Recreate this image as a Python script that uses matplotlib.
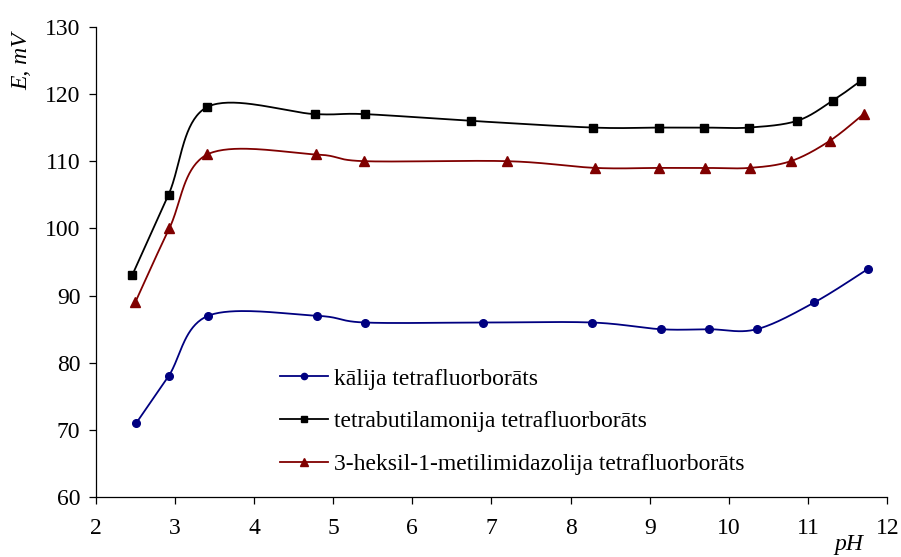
import numpy as np
import matplotlib
matplotlib.use("Agg")
import matplotlib.pyplot as plt

# pH values and electrode potentials (mV) for each electrolyte
ph_k = [2.51, 2.92, 3.42, 4.79, 5.40, 6.89, 8.27, 9.14, 9.75, 10.35, 11.08, 11.76]
e_k = [71, 78, 87, 87, 86, 86, 86, 85, 85, 85, 89, 94]

ph_tba = [2.46, 2.92, 3.40, 4.77, 5.40, 6.74, 8.28, 9.11, 9.69, 10.25, 10.86, 11.31, 11.67]
e_tba = [93, 105, 118, 117, 117, 116, 115, 115, 115, 115, 116, 119, 122]

ph_hmim = [2.50, 2.93, 3.41, 4.78, 5.39, 7.20, 8.31, 9.12, 9.70, 10.26, 10.78, 11.27, 11.70]
e_hmim = [89, 100, 111, 111, 110, 110, 109, 109, 109, 109, 110, 113, 117]

labels = ["kālija tetrafluorborāts",
          "tetrabutilamonija tetrafluorborāts",
          "3-heksil-1-metilimidazolija tetrafluorborāts"]

x_ticks = list(range(2, 13))
y_ticks = list(range(60, 131, 10))


def smooth(xs, ys, n=40):
    """Cardinal (Catmull-Rom) Bezier smoothing through every point."""
    p = np.column_stack([xs, ys]).astype(float)
    m = len(p)
    out = [p[0]]
    t = np.linspace(0, 1, n)[1:, None]
    for i in range(m - 1):
        p0 = p[i - 1] if i > 0 else p[i]
        p3 = p[i + 2] if i + 2 < m else p[i + 1]
        c1 = p[i] + (p[i + 1] - p0) / 6.0
        c2 = p[i + 1] - (p3 - p[i]) / 6.0
        seg = ((1 - t) ** 3) * p[i] + 3 * ((1 - t) ** 2) * t * c1 \
            + 3 * (1 - t) * t ** 2 * c2 + t ** 3 * p[i + 1]
        out.extend(seg)
    out = np.array(out)
    return out[:, 0], out[:, 1]


FS = 17
plt.rcParams["font.family"] = ["Liberation Serif", "DejaVu Serif"]
plt.rcParams["font.size"] = FS

fig = plt.figure(figsize=(9.01, 5.57), dpi=100)
ax = fig.add_axes([0.1062, 0.1072, 0.8786, 0.8448])

series = [
    (ph_k, e_k, "#000080", "o", 5.5),
    (ph_tba, e_tba, "#000000", "s", 5.8),
    (ph_hmim, e_hmim, "#800000", "^", 6.5),
]
handles = []
for (xs, ys, col, mk, ms), lab in zip(series, labels):
    sx, sy = smooth(xs, ys)
    ax.plot(sx, sy, color=col, lw=1.3, solid_capstyle="round")
    ax.plot(xs, ys, ls="none", marker=mk, ms=ms, color=col)
    h, = ax.plot([], [], color=col, lw=1.3, marker=mk, ms=ms - 1, label=lab)
    handles.append(h)

ax.set_xlim(2, 12)
ax.set_ylim(60, 130)
ax.set_xticks(x_ticks)
ax.set_yticks(y_ticks)
ax.spines["top"].set_visible(False)
ax.spines["right"].set_visible(False)
for s in ("left", "bottom"):
    ax.spines[s].set_linewidth(0.9)
ax.tick_params(axis="both", direction="out", length=5, width=0.9,
               labelsize=FS, colors="black")
ax.tick_params(axis="x", pad=10)
ax.tick_params(axis="y", pad=6)

fig.text(22 / 901, 1 - 61 / 557, "E, mV", rotation=90, style="italic",
         ha="center", va="center", fontsize=FS)
fig.text(849 / 901, 2 / 557, "pH", style="italic",
         ha="center", va="bottom", fontsize=FS)

ax.legend(handles=handles, loc="upper left", frameon=False,
          bbox_to_anchor=(280 / 901, 1 - 368 / 557),
          bbox_transform=fig.transFigure,
          handlelength=2.05, handletextpad=0.22, labelspacing=0.9,
          fontsize=FS, borderpad=0, borderaxespad=0)

fig.savefig("out.png", dpi=100)
